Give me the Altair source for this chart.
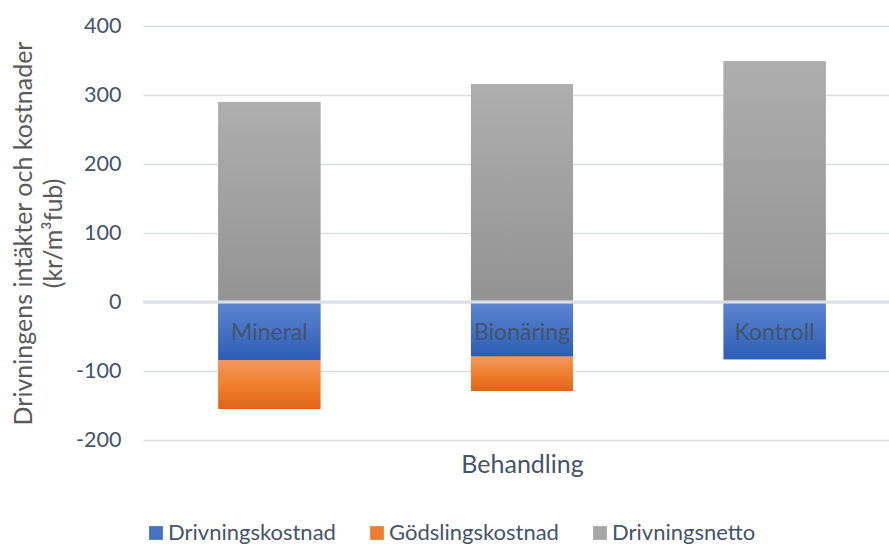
import altair as alt
import pandas as pd

# Categories, series and values (kr/m³fub)
categories = ["Mineral", "Bionäring", "Kontroll"]
series = ["Drivningskostnad", "Gödslingskostnad", "Drivningsnetto"]
drivningskostnad = [-84, -79, -83]
godslingskostnad = [-71, -50, 0]
drivningsnetto = [290, 316, 349]
y_ticks = [-200, -100, 0, 100, 200, 300, 400]
label_level = [-45, -45, -45]

series_values = [drivningskostnad, godslingskostnad, drivningsnetto]
rows = []
for i, cat in enumerate(categories):
    for j, name in enumerate(series):
        rows.append({"Behandling": cat, "serie": name, "ordning": j, "varde": series_values[j][i]})
df = pd.DataFrame(rows)
labels_df = pd.DataFrame({"Behandling": categories, "niva": label_level})

FONT = "Lato"
TEXT = "#44546A"
solid_colors = ["#4472C4", "#ED7D31", "#A5A5A5"]


def vertical_gradient(stops):
    return alt.Gradient(
        gradient="linear",
        x1=0, x2=0, y1=0, y2=1,
        stops=[alt.GradientStop(color=c, offset=o) for o, c in stops],
    )


gradients = {
    "Drivningskostnad": vertical_gradient([(0, "#5d86d2"), (1, "#2c5db6")]),
    "Gödslingskostnad": vertical_gradient([(0, "#f2985f"), (0.5, "#f07f2c"), (1, "#df6418")]),
    "Drivningsnetto": vertical_gradient([(0, "#aeaeae"), (1, "#939393")]),
}

x_enc = alt.X(
    "Behandling:N",
    sort=categories,
    scale=alt.Scale(range=[0, 758], paddingInner=0.596, paddingOuter=0.298),
    axis=alt.Axis(
        labels=False, ticks=False, domain=False, grid=False,
        title="Behandling", titleFont=FONT, titleFontSize=25,
        titleFontWeight="normal", titleColor=TEXT,
        titleX=379, titleY=32, titleBaseline="alphabetic",
    ),
)
y_enc = alt.Y(
    "v0:Q",
    scale=alt.Scale(domain=[-200, 400], nice=False),
    axis=alt.Axis(
        values=y_ticks,
        labelExpr="replace(datum.label, '−', '-')",
        title=["Drivningens intäkter och kostnader", "(kr/m³fub)"],
        titleFont=FONT, titleFontSize=25, titleFontWeight="normal",
        titleColor="#595959", titleX=-112, titleY=207,
        titleBaseline="alphabetic", titleLineHeight=30, titleAngle=270,
        labelFont=FONT, labelFontSize=21.5, labelColor=TEXT, labelPadding=22,
        ticks=False, domain=False, gridColor="#dadde2", gridWidth=1.3,
    ),
)

stacked = alt.Chart(df).transform_stack(
    stack="varde",
    groupby=["Behandling"],
    sort=[alt.SortField("ordning", order="ascending")],
    as_=["v0", "v1"],
)

# Solid bars carry the legend; gradient bars are drawn exactly on top.
base_bars = stacked.mark_bar().encode(
    x=x_enc,
    y=y_enc,
    y2="v1:Q",
    color=alt.Color(
        "serie:N",
        sort=series,
        scale=alt.Scale(domain=series, range=solid_colors),
        legend=alt.Legend(
            orient="none", legendX=2, legendY=496, direction="horizontal",
            title=None, symbolType="square", symbolSize=190, symbolStrokeWidth=0,
            labelFont=FONT, labelFontSize=22, labelColor=TEXT, labelOffset=1,
            labelLimit=400, columnPadding=30, padding=0,
        ),
    ),
)

gradient_layers = [
    stacked.transform_filter(alt.datum.serie == name)
    .mark_bar(fill=gradients[name])
    .encode(x=x_enc, y=y_enc, y2="v1:Q")
    for name in series
]

zero_line = alt.Chart(labels_df).mark_rule(color="#dcdfe4", strokeWidth=2.6).encode(
    y=alt.datum(0)
)

bar_labels = alt.Chart(labels_df).mark_text(
    font=FONT, fontSize=23, color=TEXT, baseline="middle"
).encode(
    x=alt.X("Behandling:N", sort=categories),
    y=alt.Y("niva:Q"),
    text="Behandling:N",
)

chart = (
    alt.layer(base_bars, *gradient_layers, zero_line, bar_labels)
    .properties(
        width=746,
        height=414,
        autosize=alt.AutoSizeParams(type="none"),
        padding={"left": 143, "top": 26, "right": 0, "bottom": 104},
        background="white",
    )
    .configure_view(stroke=None)
)

chart.save("out.html", embed_options={"renderer": "svg", "actions": False})
